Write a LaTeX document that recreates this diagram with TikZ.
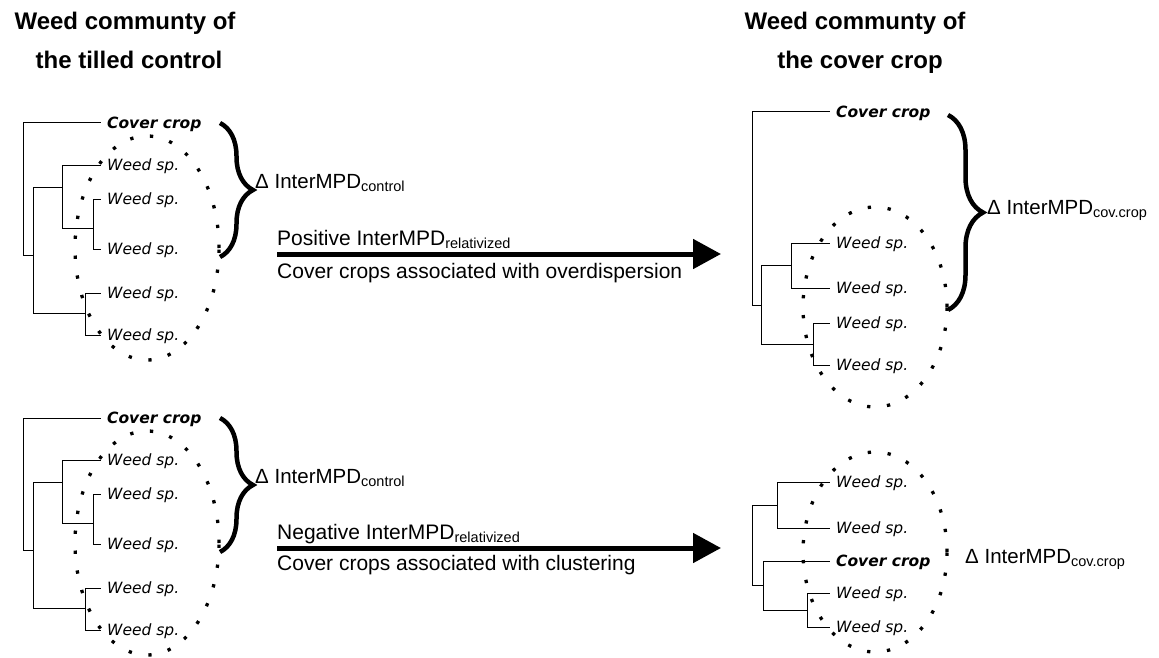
\documentclass[tikz,border=0pt]{standalone}
\usepackage{fontspec}
\setmainfont{Liberation Sans}
\newfontfamily\treefont{DejaVu Sans}
\usepackage{tikz}
\usetikzlibrary{arrows.meta,decorations.pathreplacing}

\newcommand{\lowsub}[1]{\raisebox{-3.5pt}{\fontsize{14.5}{14.5}\selectfont #1}}

\tikzset{
  head/.style={anchor=base, inner sep=0pt, font=\bfseries\fontsize{24}{24}\selectfont},
  leaf/.style={anchor=west, inner xsep=6pt, inner ysep=0pt, text height=11pt, text depth=0pt,
    font=\treefont\itshape\fontsize{15.5}{15.5}\selectfont},
  crop/.style={leaf, font=\treefont\bfseries\itshape\fontsize{15.5}{15.5}\selectfont},
  branch/.style={line width=1pt},
  weedring/.style={line width=3.3pt, dash pattern=on 3.3pt off 16.7pt},
  bracket/.style={decorate, decoration={brace, amplitude=33pt}, line width=4.5pt},
  delta/.style={anchor=base west, inner sep=0pt, font=\fontsize{20.5}{20.5}\selectfont},
  arrowtext/.style={anchor=base west, inner sep=0pt, font=\fontsize{21}{21}\selectfont},
  bigarrow/.style={-{Triangle[length=28pt,width=29pt]}, line width=5pt}
}

\begin{document}
\begin{tikzpicture}[x=1pt,y=-1pt]

      % fix page size
      \useasboundingbox (0,0) rectangle (1159,658);

      % draw headers
      \node[head] (hl1) at (125,30) {Weed communty of};
      \node[head] (hl2) at (129,69) {the tilled control};
      \node[head] (hr1) at (855,30) {Weed communty of};
      \node[head] (hr2) at (860,69) {the cover crop};

      % draw control trees (top and bottom)
      \foreach \dy/\t in {0/a,295/b}{
        \begin{scope}[shift={(0,\dy)}]
          \coordinate (\t-root) at (23,190);
          \coordinate (\t-n1) at (33,255);
          \coordinate (\t-n2) at (62,187);
          \coordinate (\t-n3) at (85,313);
          \coordinate (\t-n4) at (93,228);
          \node[crop] (\t-cc) at (101,123) {Cover crop};
          \node[leaf] (\t-w1) at (101,165) {Weed sp.};
          \node[leaf] (\t-w2) at (101,199) {Weed sp.};
          \node[leaf] (\t-w3) at (101,249) {Weed sp.};
          \node[leaf] (\t-w4) at (101,293) {Weed sp.};
          \node[leaf] (\t-w5) at (101,335) {Weed sp.};
          \draw[branch] (\t-root) |- (\t-cc.west);
          \draw[branch] (\t-root) |- (\t-n1);
          \draw[branch] (\t-n1) |- (\t-n2);
          \draw[branch] (\t-n1) |- (\t-n3);
          \draw[branch] (\t-n2) |- (\t-w1.west);
          \draw[branch] (\t-n2) |- (\t-n4);
          \draw[branch] (\t-n4) |- (\t-w2.west);
          \draw[branch] (\t-n4) |- (\t-w3.west);
          \draw[branch] (\t-n3) |- (\t-w4.west);
          \draw[branch] (\t-n3) |- (\t-w5.west);
          \draw[weedring] (147,248) ellipse [x radius=72pt, y radius=112pt];
          \coordinate (\t-bt) at (220,123);
          \coordinate (\t-bb) at (220,257);
          \draw[bracket] (\t-bt) -- (\t-bb);
          \node[delta] (\t-dl) at (255,188) {Δ InterMPD\lowsub{control}};
        \end{scope}
      }

      % draw cover crop tree (top right)
      \coordinate (c-root) at (752,200);
      \coordinate (c-n1) at (761,305);
      \coordinate (c-n2) at (791,265);
      \coordinate (c-n3) at (813,344);
      \node[crop] (c-cc) at (830,112) {Cover crop};
      \node[leaf] (c-w1) at (830,243) {Weed sp.};
      \node[leaf] (c-w2) at (830,288) {Weed sp.};
      \node[leaf] (c-w3) at (830,323) {Weed sp.};
      \node[leaf] (c-w4) at (830,365) {Weed sp.};
      \draw[branch] (c-root) |- (c-cc.west);
      \draw[branch] (c-root) |- (c-n1);
      \draw[branch] (c-n1) |- (c-n2);
      \draw[branch] (c-n1) |- (c-n3);
      \draw[branch] (c-n2) |- (c-w1.west);
      \draw[branch] (c-n2) |- (c-w2.west);
      \draw[branch] (c-n3) |- (c-w3.west);
      \draw[branch] (c-n3) |- (c-w4.west);
      \draw[weedring] (875,307) ellipse [x radius=72pt, y radius=100pt];
      \coordinate (c-bt) at (948,115);
      \coordinate (c-bb) at (948,310);
      \draw[bracket, decoration={amplitude=35pt}] (c-bt) -- (c-bb);
      \node[delta] (c-dl) at (987,214) {Δ InterMPD\lowsub{cov.crop}};

      % draw cover crop tree (bottom right)
      \coordinate (d-root) at (752,545);
      \coordinate (d-n1) at (777,505);
      \coordinate (d-n2) at (763,585);
      \coordinate (d-n3) at (807,610);
      \node[leaf] (d-w1) at (830,482) {Weed sp.};
      \node[leaf] (d-w2) at (830,528) {Weed sp.};
      \node[crop] (d-cc) at (830,561) {Cover crop};
      \node[leaf] (d-w3) at (830,593) {Weed sp.};
      \node[leaf] (d-w4) at (830,627) {Weed sp.};
      \draw[branch] (d-root) |- (d-n1);
      \draw[branch] (d-root) |- (d-n2);
      \draw[branch] (d-n1) |- (d-w1.west);
      \draw[branch] (d-n1) |- (d-w2.west);
      \draw[branch] (d-n2) |- (d-cc.west);
      \draw[branch] (d-n2) |- (d-n3);
      \draw[branch] (d-n3) |- (d-w3.west);
      \draw[branch] (d-n3) |- (d-w4.west);
      \draw[weedring] (875,552) ellipse [x radius=72pt, y radius=100pt];
      \node[delta] (d-dl) at (965,563) {Δ InterMPD\lowsub{cov.crop}};

      % draw arrows
      \coordinate (p-start) at (277,254);
      \coordinate (p-end) at (721,254);
      \draw[bigarrow] (p-start) -- (p-end);
      \node[arrowtext] (p-top) at (277,245) {Positive InterMPD\lowsub{relativized}};
      \node[arrowtext] (p-bot) at (277,278) {Cover crops associated with overdispersion};

      \coordinate (n-start) at (277,548);
      \coordinate (n-end) at (721,548);
      \draw[bigarrow] (n-start) -- (n-end);
      \node[arrowtext] (n-top) at (277,539) {Negative InterMPD\lowsub{relativized}};
      \node[arrowtext] (n-bot) at (277,570) {Cover crops associated with clustering};

     \end{tikzpicture}
\end{document}
